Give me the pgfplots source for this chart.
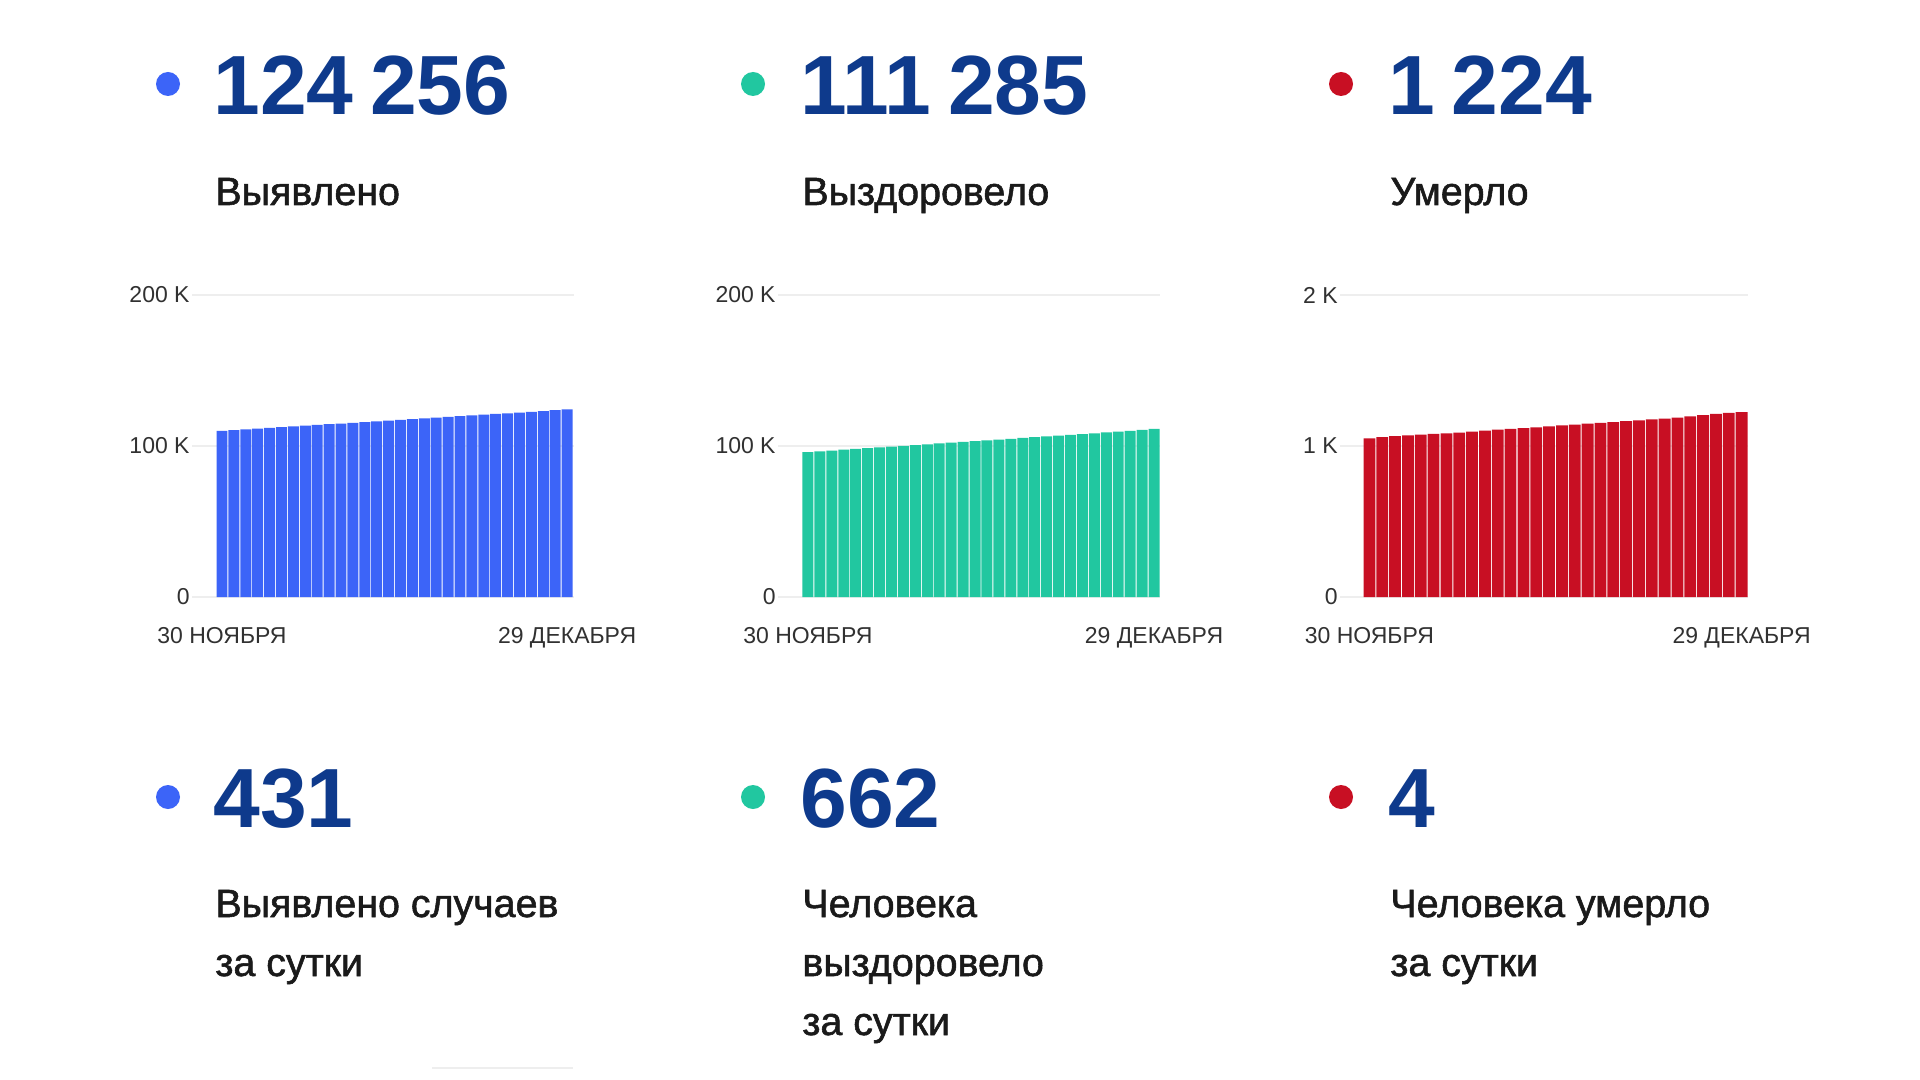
\documentclass[border=0pt]{standalone}
\usepackage{fontspec}
\setmainfont{Liberation Sans}
\newfontfamily\medfont[FakeBold=1.4]{Liberation Sans}
\usepackage{pgfplots}
\pgfplotsset{compat=1.18}
\definecolor{cblue}{HTML}{3C64F8}
\definecolor{cgreen}{HTML}{21C7A0}
\definecolor{cred}{HTML}{C80F23}
\definecolor{navy}{HTML}{0E3A8C}
\definecolor{txt}{HTML}{1A1A1A}
\definecolor{gridc}{HTML}{EEEEEE}
\pgfplotsset{
  mini/.style={
    scale only axis, anchor=south west,
    height=151pt, ymin=0, scaled y ticks=false,
    axis line style={draw=none}, major tick length=0pt,
    ymajorgrids, grid style={gridc, line width=1pt},
    xtick={1,30}, xticklabels={30 НОЯБРЯ,29 ДЕКАБРЯ},
    xticklabel style={anchor=base, inner sep=0pt, yshift=-23pt, font=\fontsize{11.5}{13}\selectfont, text=txt!90},
    yticklabel style={anchor=east, inner sep=0pt, xshift=-1pt, font=\fontsize{11.5}{13}\selectfont, text=txt!90},
    ybar, bar width=0.92, clip=false,
  }
}
\begin{document}
\begin{tikzpicture}
\path[use as bounding box, fill=white] (0,0) rectangle (960pt,-540pt);

\begin{axis}[mini, at={(96pt,-298.5pt)}, width=191pt,
  xmin=-1.52, xmax=30.58, ymax=200000,
  ytick={0,100000,200000}, yticklabels={0,100 K,200 K}]
\addplot[fill=cblue, draw=none] coordinates {
(1,110050) (2,110520) (3,111000) (4,111480) (5,111960) (6,112450) (7,112940) (8,113430) (9,113920) (10,114410)
(11,114900) (12,115390) (13,115880) (14,116370) (15,116860) (16,117350) (17,117840) (18,118320) (19,118800) (20,119280)
(21,119760) (22,120240) (23,120720) (24,121200) (25,121680) (26,122160) (27,122640) (28,123120) (29,123825) (30,124256)};
\end{axis}

\begin{axis}[mini, at={(389pt,-298.5pt)}, width=191pt,
  xmin=-1.51, xmax=30.5, ymax=200000,
  ytick={0,100000,200000}, yticklabels={0,100 K,200 K}]
\addplot[fill=cgreen, draw=none] coordinates {
(1,96000) (2,96500) (3,97000) (4,97520) (5,98040) (6,98560) (7,99080) (8,99600) (9,100120) (10,100640)
(11,101160) (12,101680) (13,102200) (14,102720) (15,103240) (16,103760) (17,104280) (18,104800) (19,105320) (20,105840)
(21,106360) (22,106880) (23,107400) (24,107920) (25,108440) (26,108960) (27,109480) (28,110000) (29,110623) (30,111285)};
\end{axis}

\begin{axis}[mini, at={(670pt,-298.5pt)}, width=204pt,
  xmin=-1.29, xmax=30.5, ymax=2000,
  ytick={0,1000,2000}, yticklabels={0,1 K,2 K}]
\addplot[fill=cred, draw=none] coordinates {
(1,1050) (2,1058) (3,1065) (4,1070) (5,1075) (6,1080) (7,1083) (8,1088) (9,1095) (10,1102)
(11,1108) (12,1113) (13,1118) (14,1124) (15,1130) (16,1136) (17,1142) (18,1148) (19,1153) (20,1158)
(21,1164) (22,1170) (23,1176) (24,1182) (25,1188) (26,1196) (27,1204) (28,1212) (29,1220) (30,1224)};
\end{axis}

\begin{scope}[x=0.5pt, y=-0.5pt]
  \def\numfont{\fontsize{42}{44}\selectfont\bfseries}
  \def\labfont{\medfont\fontsize{19.7}{22}\selectfont}
  % top row
  \fill[cblue] (168,84) circle (12);
  \fill[cgreen] (753,84) circle (12);
  \fill[cred] (1341,84) circle (12);
  \node[anchor=base west, inner sep=0pt, text=navy] at (213,115) {\numfont 124\hspace{0.2em}256};
  \node[anchor=base west, inner sep=0pt, text=navy] at (800,115) {\numfont 111\hspace{0.2em}285};
  \node[anchor=base west, inner sep=0pt, text=navy] at (1388,115) {\numfont 1\hspace{0.2em}224};
  \node[anchor=base west, inner sep=0pt, text=txt] at (215,205) {\labfont Выявлено};
  \node[anchor=base west, inner sep=0pt, text=txt] at (802,205) {\labfont Выздоровело};
  \node[anchor=base west, inner sep=0pt, text=txt] at (1390,205) {\labfont Умерло};
  % bottom row
  \fill[cblue] (168,797) circle (12);
  \fill[cgreen] (753,797) circle (12);
  \fill[cred] (1341,797) circle (12);
  \node[anchor=base west, inner sep=0pt, text=navy] at (213,827) {\numfont 431};
  \node[anchor=base west, inner sep=0pt, text=navy] at (800,827) {\numfont 662};
  \node[anchor=base west, inner sep=0pt, text=navy] at (1388,827) {\numfont 4};
  \node[anchor=base west, inner sep=0pt, text=txt] at (215,917) {\labfont Выявлено случаев};
  \node[anchor=base west, inner sep=0pt, text=txt] at (215,976) {\labfont за сутки};
  \node[anchor=base west, inner sep=0pt, text=txt] at (802,917) {\labfont Человека};
  \node[anchor=base west, inner sep=0pt, text=txt] at (802,976) {\labfont выздоровело};
  \node[anchor=base west, inner sep=0pt, text=txt] at (802,1035) {\labfont за сутки};
  \node[anchor=base west, inner sep=0pt, text=txt] at (1390,917) {\labfont Человека умерло};
  \node[anchor=base west, inner sep=0pt, text=txt] at (1390,976) {\labfont за сутки};
  \draw[gridc, line width=1pt] (432,1068) -- (573,1068);
\end{scope}
\end{tikzpicture}
\end{document}
